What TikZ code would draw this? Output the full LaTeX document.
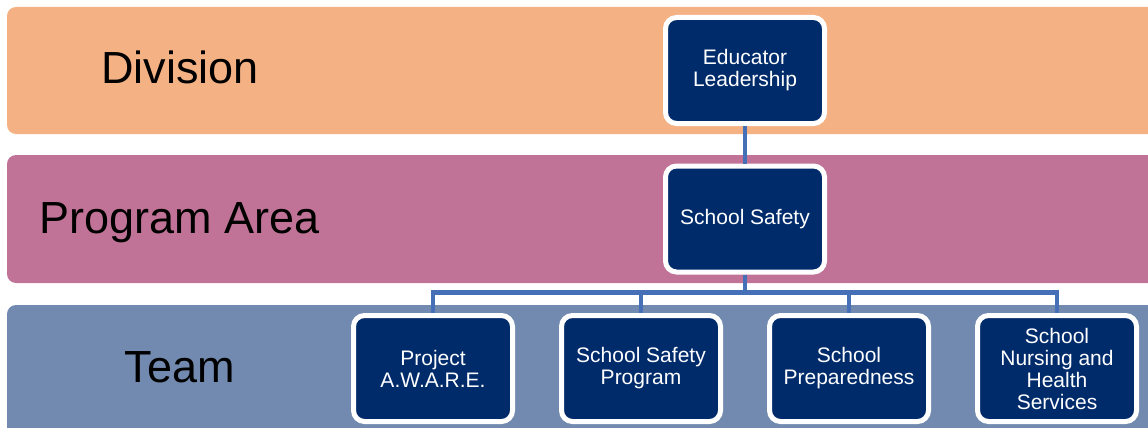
\documentclass[tikz,border=0pt]{standalone}
\usepackage{fontspec}
\setmainfont{Liberation Sans}
\usepackage{tikz}
\usetikzlibrary{positioning}

\definecolor{divorange}{HTML}{F4B184}
\definecolor{progpink}{HTML}{C17397}
\definecolor{teamblue}{HTML}{728AB0}
\definecolor{unitnavy}{HTML}{002B6B}
\definecolor{linkblue}{HTML}{4570B8}

\tikzset{
	unit/.style={draw=white, fill=unitnavy, line width=5pt, rounded corners=11pt,
		minimum width=159pt, minimum height=106pt, text=white, align=center,
		font=\fontsize{21}{22}\selectfont},
	level/.style={anchor=base, font=\fontsize{45}{48}\selectfont},
	link/.style={draw=linkblue, line width=4.5pt}
}

\begin{document}
\begin{tikzpicture}[x=1pt, y=-1pt]
			\useasboundingbox (0,0) rectangle (1148,428);
			\clip (0,0) rectangle (1148,428);

			% bands
			\fill[divorange, rounded corners=9pt] (7,7) rectangle (1170,134);
			\fill[progpink, rounded corners=9pt] (7,155) rectangle (1170,283);
			\fill[teamblue, rounded corners=9pt] (7,305) rectangle (1170,440);

			\node[level] (division) at (180,84) {Division};
			\node[level] (programarea) at (180,233) {Program Area};
			\node[level] (team) at (180,382) {Team};

			% units
			\node[unit] (leadership) at (745,70.5) {Educator\\Leadership};
			\node[unit] (safety) at (745,219) {School Safety};
			\node[unit] (aware) at (433,368.5) {Project\\A.W.A.R.E.};
			\node[unit, right=44pt of aware] (program) {School Safety\\Program};
			\node[unit, right=44pt of program] (prep) {School\\Preparedness};
			\node[unit, right=44pt of prep] (nursing) {School\\Nursing and\\Health\\Services};

			\draw[link] (leadership.south) -- (safety.north);
			\foreach \t in {aware,program,prep,nursing}
				\draw[link] (safety.south) -- ++(0,18) -| (\t.north);
\end{tikzpicture}
\end{document}
